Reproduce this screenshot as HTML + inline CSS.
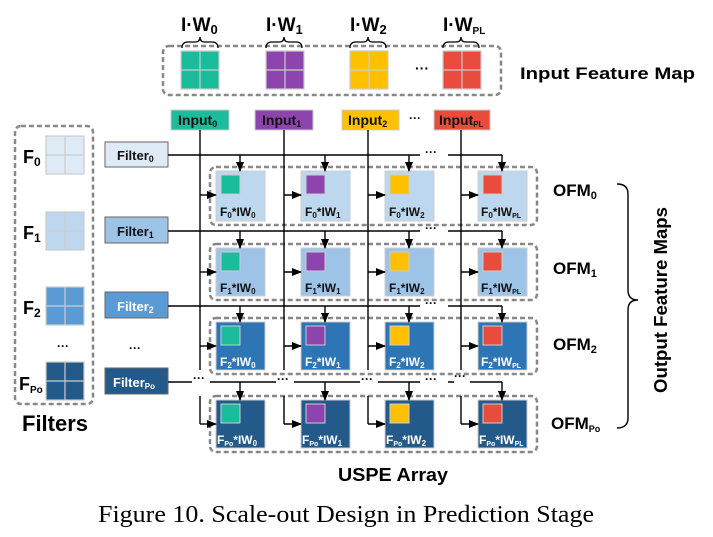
<!DOCTYPE html>
<html><head><meta charset="utf-8"><style>
html,body{margin:0;padding:0;background:#fff}
svg{display:block}
text{font-family:"Liberation Sans",sans-serif;font-weight:bold}
</style></head><body>
<svg width="713" height="537" viewBox="0 0 713 537" xmlns="http://www.w3.org/2000/svg">
<defs>
<marker id="a" markerWidth="10" markerHeight="8" refX="9" refY="4" orient="auto" markerUnits="userSpaceOnUse">
<path d="M0,0 L10,4 L0,8 Z" fill="#000"/></marker>
</defs>
<!-- IFM -->
<rect x="163" y="46" width="338" height="49" rx="6" fill="none" stroke="#888" stroke-width="2.5" stroke-dasharray="5,3"/>
<g stroke="#ccc" stroke-width="1.2">
<rect x="181" y="51" width="38" height="38" fill="#1abc9c"/><path d="M200,51V89M181,70H219"/>
<rect x="266" y="51" width="38" height="38" fill="#8e44ad"/><path d="M285,51V89M266,70H304"/>
<rect x="350" y="51" width="38" height="38" fill="#ffc000"/><path d="M369,51V89M350,70H388"/>
<rect x="443" y="51" width="38" height="38" fill="#e74c3c"/><path d="M462,51V89M443,70H481"/>
</g>
<text x="415" y="73" font-size="14">···</text>
<g fill="none" stroke="#000" stroke-width="1.3">
<path d="M182,48 q0,-6 6,-6 h7 q5,0 5,-5 q0,5 5,5 h7 q6,0 6,6"/>
<path d="M266,48 q0,-6 6,-6 h7 q5,0 5,-5 q0,5 5,5 h7 q6,0 6,6"/>
<path d="M350,48 q0,-6 6,-6 h7 q5,0 5,-5 q0,5 5,5 h7 q6,0 6,6"/>
<path d="M443,48 q0,-6 6,-6 h7 q5,0 5,-5 q0,5 5,5 h7 q6,0 6,6"/>
</g>
<text x="181" y="31" font-size="19">I·W<tspan font-size="13" dy="3">0</tspan></text>
<text x="266" y="31" font-size="19">I·W<tspan font-size="13" dy="3">1</tspan></text>
<text x="350" y="31" font-size="19">I·W<tspan font-size="13" dy="3">2</tspan></text>
<text x="443" y="31" font-size="19">I·W<tspan font-size="10" dy="3">PL</tspan></text>
<text x="520" y="79" font-size="17" textLength="175" lengthAdjust="spacingAndGlyphs">Input Feature Map</text>
<!-- Inputs -->
<rect x="171" y="110" width="58" height="20" fill="#1abc9c" stroke="#ccc"/>
<rect x="255" y="110" width="58" height="20" fill="#8e44ad" stroke="#ccc"/>
<rect x="342" y="110" width="57" height="20" fill="#ffc000" stroke="#ccc"/>
<rect x="434" y="110" width="56" height="20" fill="#e74c3c" stroke="#ccc"/>
<g font-size="14" fill="#111">
<text x="178" y="125">Input<tspan font-size="9" dy="2">0</tspan></text>
<text x="262" y="125">Input<tspan font-size="9" dy="2">1</tspan></text>
<text x="348" y="125">Input<tspan font-size="9" dy="2">2</tspan></text>
<text x="439" y="125">Input<tspan font-size="8" dy="2">PL</tspan></text>
</g>
<text x="409" y="122" font-size="12">···</text>
<!-- Filters box -->
<rect x="15" y="126" width="78" height="278" rx="6" fill="none" stroke="#888" stroke-width="2.5" stroke-dasharray="5,3"/>
<g stroke="#ccc" stroke-width="1.2">
<rect x="46" y="136" width="38" height="38" fill="#deebf7"/><path d="M65,136V174M46,155H84"/>
<rect x="46" y="212" width="38" height="38" fill="#bdd7ee"/><path d="M65,212V250M46,231H84"/>
<rect x="46" y="287" width="38" height="38" fill="#5b9bd5"/><path d="M65,287V325M46,306H84"/>
<rect x="46" y="362" width="38" height="38" fill="#245a8a"/><path d="M65,362V400M46,381H84"/>
</g>
<g font-size="18">
<text x="23" y="163">F<tspan font-size="12" dy="3">0</tspan></text>
<text x="23" y="239">F<tspan font-size="12" dy="3">1</tspan></text>
<text x="23" y="314">F<tspan font-size="12" dy="3">2</tspan></text>
<text x="19" y="390">F<tspan font-size="10" dy="3">Po</tspan></text>
</g>
<text x="57" y="350" font-size="12">···</text>
<text x="22" y="431" font-size="22">Filters</text>
<!-- Filter buttons -->
<rect x="105" y="142" width="63" height="25" fill="#deebf7" stroke="#666"/>
<rect x="105" y="217" width="63" height="26" fill="#9dc3e6" stroke="#666"/>
<rect x="105" y="292" width="63" height="26" fill="#5b9bd5" stroke="#666"/>
<rect x="105" y="368" width="63" height="26" fill="#245a8a" stroke="#666"/>
<g font-size="13">
<text x="117" y="160" fill="#111">Filter<tspan font-size="9" dy="2">0</tspan></text>
<text x="117" y="236" fill="#111">Filter<tspan font-size="9" dy="2">1</tspan></text>
<text x="117" y="311" fill="#fff">Filter<tspan font-size="9" dy="2">2</tspan></text>
<text x="113" y="387" fill="#fff">Filter<tspan font-size="8" dy="2">Po</tspan></text>
</g>
<text x="129" y="352" font-size="12">···</text>
<!-- row boxes -->
<g fill="none" stroke="#888" stroke-width="2.5" stroke-dasharray="5,3">
<rect x="210" y="167" width="327" height="58" rx="6"/>
<rect x="210" y="244" width="327" height="56" rx="6"/>
<rect x="210" y="318" width="327" height="56" rx="6"/>
<rect x="210" y="396" width="327" height="56" rx="6"/>
</g>
<!-- PEs -->
<g stroke="#ccc">
<rect x="216" y="171" width="49" height="50" fill="#bdd7ee"/><rect x="301" y="171" width="49" height="50" fill="#bdd7ee"/><rect x="385" y="171" width="49" height="50" fill="#bdd7ee"/><rect x="478" y="171" width="49" height="50" fill="#bdd7ee"/>
<rect x="216" y="248" width="49" height="48" fill="#9dc3e6"/><rect x="301" y="248" width="49" height="48" fill="#9dc3e6"/><rect x="385" y="248" width="49" height="48" fill="#9dc3e6"/><rect x="478" y="248" width="49" height="48" fill="#9dc3e6"/>
<rect x="216" y="322" width="49" height="48" fill="#2e75b6"/><rect x="301" y="322" width="49" height="48" fill="#2e75b6"/><rect x="385" y="322" width="49" height="48" fill="#2e75b6"/><rect x="478" y="322" width="49" height="48" fill="#2e75b6"/>
<rect x="216" y="400" width="49" height="48" fill="#245a8a"/><rect x="301" y="400" width="49" height="48" fill="#245a8a"/><rect x="385" y="400" width="49" height="48" fill="#245a8a"/><rect x="478" y="400" width="49" height="48" fill="#245a8a"/>
</g>
<g stroke="#ccc">
<rect x="221" y="175" width="19" height="19" fill="#1abc9c"/><rect x="306" y="175" width="19" height="19" fill="#8e44ad"/><rect x="390" y="175" width="19" height="19" fill="#ffc000"/><rect x="483" y="175" width="19" height="19" fill="#e74c3c"/>
<rect x="221" y="252" width="19" height="19" fill="#1abc9c"/><rect x="306" y="252" width="19" height="19" fill="#8e44ad"/><rect x="390" y="252" width="19" height="19" fill="#ffc000"/><rect x="483" y="252" width="19" height="19" fill="#e74c3c"/>
<rect x="221" y="326" width="19" height="19" fill="#1abc9c"/><rect x="306" y="326" width="19" height="19" fill="#8e44ad"/><rect x="390" y="326" width="19" height="19" fill="#ffc000"/><rect x="483" y="326" width="19" height="19" fill="#e74c3c"/>
<rect x="221" y="404" width="19" height="19" fill="#1abc9c"/><rect x="306" y="404" width="19" height="19" fill="#8e44ad"/><rect x="390" y="404" width="19" height="19" fill="#ffc000"/><rect x="483" y="404" width="19" height="19" fill="#e74c3c"/>
</g>
<g font-size="12" fill="#111">
<text x="220" y="216">F<tspan font-size="8" dy="2">0</tspan><tspan dy="-2">*IW</tspan><tspan font-size="8" dy="2">0</tspan></text>
<text x="305" y="216">F<tspan font-size="8" dy="2">0</tspan><tspan dy="-2">*IW</tspan><tspan font-size="8" dy="2">1</tspan></text>
<text x="389" y="216">F<tspan font-size="8" dy="2">0</tspan><tspan dy="-2">*IW</tspan><tspan font-size="8" dy="2">2</tspan></text>
<text x="481" y="216">F<tspan font-size="8" dy="2">0</tspan><tspan dy="-2">*IW</tspan><tspan font-size="7" dy="2">PL</tspan></text>
<text x="220" y="292">F<tspan font-size="8" dy="2">1</tspan><tspan dy="-2">*IW</tspan><tspan font-size="8" dy="2">0</tspan></text>
<text x="305" y="292">F<tspan font-size="8" dy="2">1</tspan><tspan dy="-2">*IW</tspan><tspan font-size="8" dy="2">1</tspan></text>
<text x="389" y="292">F<tspan font-size="8" dy="2">1</tspan><tspan dy="-2">*IW</tspan><tspan font-size="8" dy="2">2</tspan></text>
<text x="481" y="292">F<tspan font-size="8" dy="2">1</tspan><tspan dy="-2">*IW</tspan><tspan font-size="7" dy="2">PL</tspan></text>
</g>
<g font-size="12" fill="#fff">
<text x="220" y="366">F<tspan font-size="8" dy="2">2</tspan><tspan dy="-2">*IW</tspan><tspan font-size="8" dy="2">0</tspan></text>
<text x="305" y="366">F<tspan font-size="8" dy="2">2</tspan><tspan dy="-2">*IW</tspan><tspan font-size="8" dy="2">1</tspan></text>
<text x="389" y="366">F<tspan font-size="8" dy="2">2</tspan><tspan dy="-2">*IW</tspan><tspan font-size="8" dy="2">2</tspan></text>
<text x="481" y="366">F<tspan font-size="8" dy="2">2</tspan><tspan dy="-2">*IW</tspan><tspan font-size="7" dy="2">PL</tspan></text>
<text x="217" y="444">F<tspan font-size="7" dy="2">Po</tspan><tspan dy="-2">*IW</tspan><tspan font-size="8" dy="2">0</tspan></text>
<text x="302" y="444">F<tspan font-size="7" dy="2">Po</tspan><tspan dy="-2">*IW</tspan><tspan font-size="8" dy="2">1</tspan></text>
<text x="386" y="444">F<tspan font-size="7" dy="2">Po</tspan><tspan dy="-2">*IW</tspan><tspan font-size="8" dy="2">2</tspan></text>
<text x="479" y="444">F<tspan font-size="7" dy="2">Po</tspan><tspan dy="-2">*IW</tspan><tspan font-size="7" dy="2">PL</tspan></text>
</g>
<!-- lines -->
<g stroke="#000" stroke-width="1.4" fill="none">
<path d="M200,130V370M284,130V370M368,130V370M461,130V370"/>
<path d="M200,396V424M284,396V424M368,396V424M461,396V424"/>
<path d="M168,155H420M448,155H502M168,231H420M448,231H502M168,306H420M448,306H502"/>
<path d="M168,382H192M210,382H276M294,382H360M378,382H420M448,382H454M470,382H502"/>
</g>
<g stroke="#000" stroke-width="1.4" marker-end="url(#a)">
<path d="M240,155V171"/><path d="M325,155V171"/><path d="M409,155V171"/><path d="M502,155V171"/>
<path d="M240,231V248"/><path d="M325,231V248"/><path d="M409,231V248"/><path d="M502,231V248"/>
<path d="M240,306V322"/><path d="M325,306V322"/><path d="M409,306V322"/><path d="M502,306V322"/>
<path d="M240,382V400"/><path d="M325,382V400"/><path d="M409,382V400"/><path d="M502,382V400"/>
<path d="M200,195H216"/><path d="M284,195H301"/><path d="M368,195H385"/><path d="M461,195H478"/>
<path d="M200,272H216"/><path d="M284,272H301"/><path d="M368,272H385"/><path d="M461,272H478"/>
<path d="M200,346H216"/><path d="M284,346H301"/><path d="M368,346H385"/><path d="M461,346H478"/>
<path d="M200,424H216"/><path d="M284,424H301"/><path d="M368,424H385"/><path d="M461,424H478"/>
</g>
<g font-size="12">
<text x="425" y="156">···</text><text x="425" y="232">···</text><text x="425" y="307">···</text>
<text x="193" y="382">···</text><text x="277" y="383">···</text><text x="361" y="383">···</text><text x="425" y="383">···</text><text x="454" y="380">···</text>
</g>
<!-- OFM -->
<g font-size="17">
<text x="553" y="196">OFM<tspan font-size="11" dy="3">0</tspan></text>
<text x="553" y="274">OFM<tspan font-size="11" dy="3">1</tspan></text>
<text x="553" y="350">OFM<tspan font-size="11" dy="3">2</tspan></text>
<text x="551" y="429">OFM<tspan font-size="9" dy="3">Po</tspan></text>
</g>
<path d="M617,184 q11,0 11,10 V290 q0,10 10,10 q-10,0 -10,10 V418 q0,10 -11,10" fill="none" stroke="#000" stroke-width="1.4"/>
<text x="-93" y="0" font-size="18" textLength="186" lengthAdjust="spacingAndGlyphs" transform="translate(667,300) rotate(-90)">Output Feature Maps</text>
<text x="338" y="481" font-size="18" textLength="110" lengthAdjust="spacingAndGlyphs">USPE Array</text>
<text x="98" y="522" font-size="24" textLength="496" lengthAdjust="spacingAndGlyphs" style="font-family:'Liberation Serif',serif;font-weight:normal">Figure 10. Scale-out Design in Prediction Stage</text>
</svg>
</body></html>
